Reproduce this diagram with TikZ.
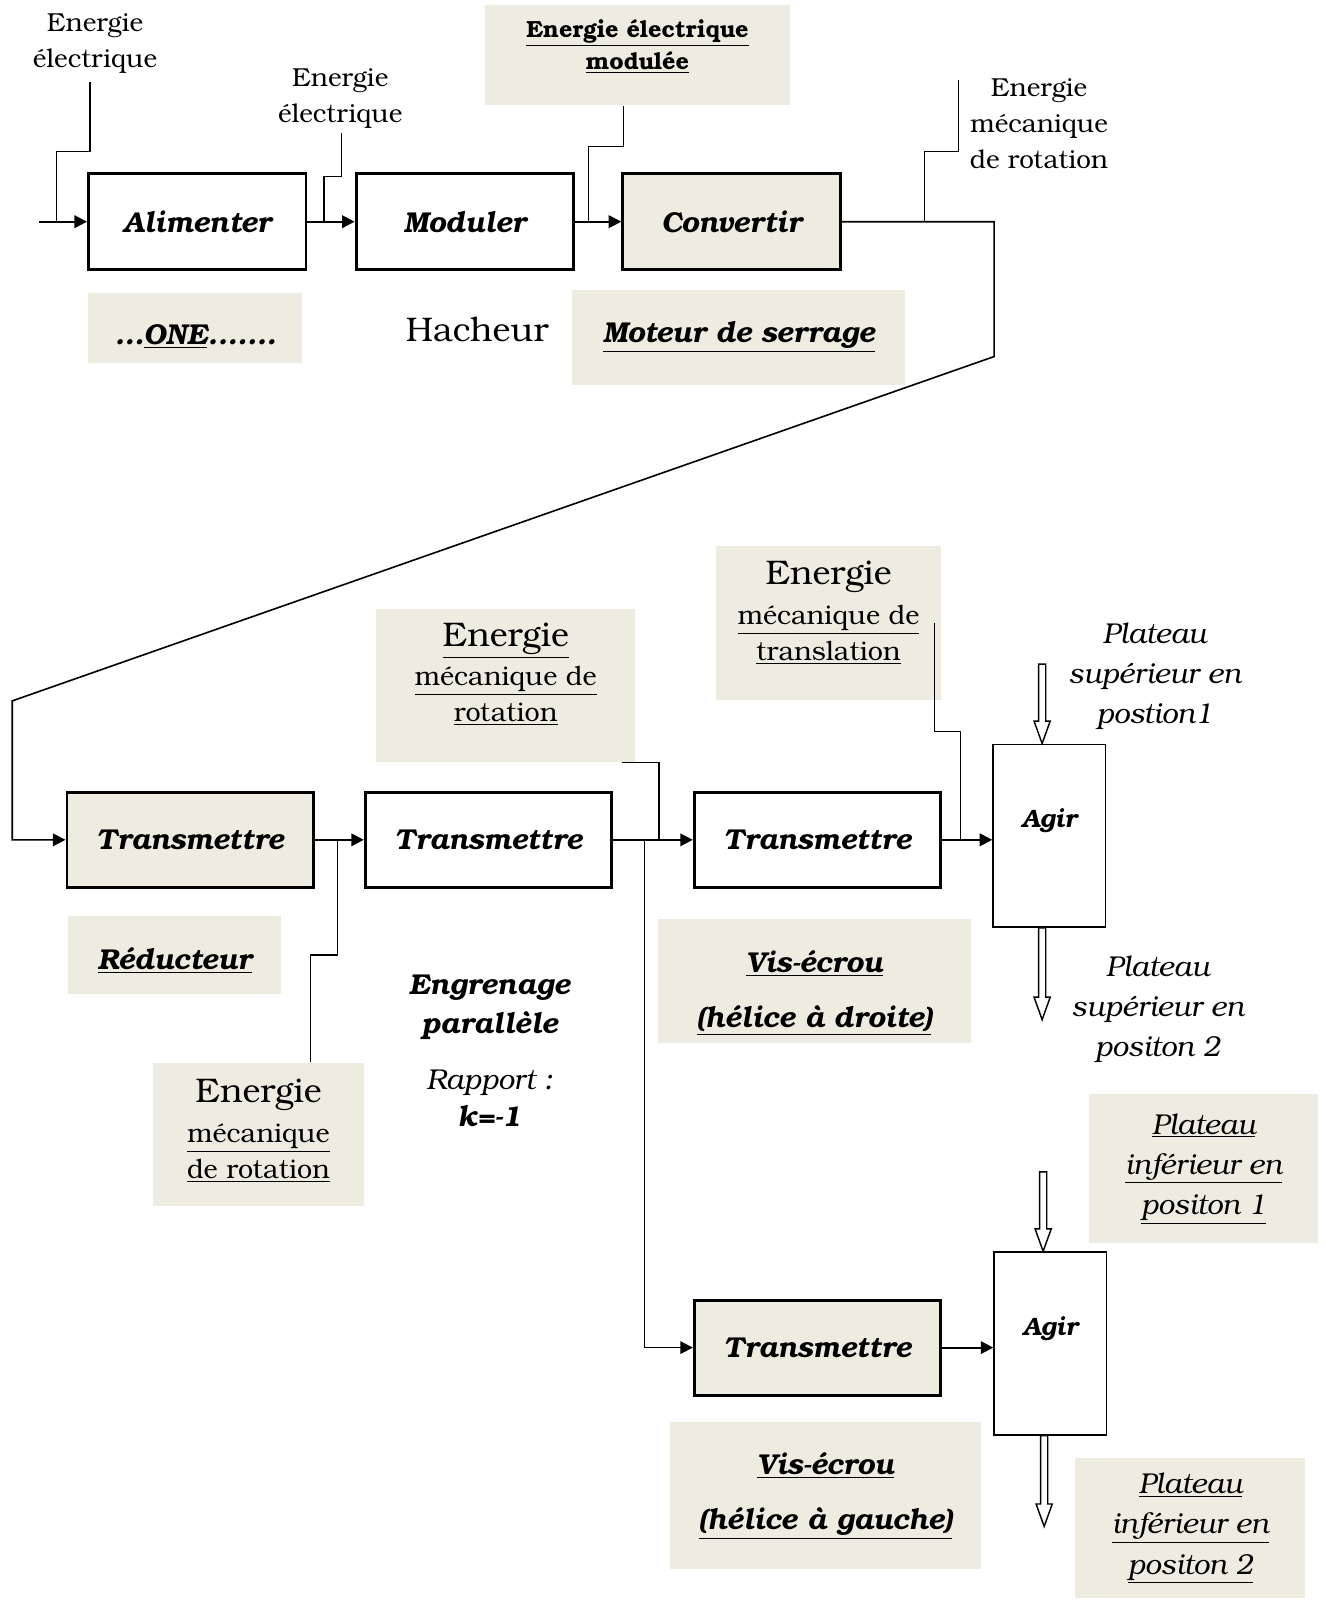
\documentclass[tikz,border=0pt]{standalone}
\usepackage{fontspec}
\setmainfont{texgyrebonum}[Extension=.otf, UprightFont=*-regular, BoldFont=*-bold,
  ItalicFont=*-italic, BoldItalicFont=*-bolditalic]
\usepackage{tikz}
\usetikzlibrary{arrows.meta,calc}
\definecolor{paper}{RGB}{238,236,225}
\newcommand{\hollowarrow}[2]{%
  \draw[line width=0.8pt, fill=white] let \p1=(#1), \p2=(#2) in
    (\x1-2pt,\y1) -- (\x1-2pt,\y2+12.5pt) -- (\x1-4.5pt,\y2+12.5pt) -- (\x1,\y2)
    -- (\x1+4.5pt,\y2+12.5pt) -- (\x1+2pt,\y2+12.5pt) -- (\x1+2pt,\y1) -- cycle;}

\begin{document}
\begin{tikzpicture}[x=0.02cm, y=-0.02cm,
  fbox/.style={
    draw, line width=1.6pt, minimum width=4.26cm, minimum height=1.88cm,
    inner sep=0pt, font=\fontsize{16}{19}\selectfont\bfseries\itshape
  },
  tbox/.style={fbox, minimum width=4.82cm, minimum height=1.86cm},
  agir/.style={
    draw, line width=0.9pt, minimum width=2.2cm, minimum height=3.58cm,
    text depth=20pt, font=\fontsize{14}{17}\selectfont\bfseries\itshape
  },
  note/.style={fill=paper, align=center, inner sep=0pt},
  lbl/.style={align=center, font=\fontsize{14.5}{20}\selectfont},
  boldlbl/.style={align=center, font=\fontsize{16}{19}\selectfont\bfseries\itshape},
  platlbl/.style={align=center, font=\fontsize{16}{22.4}\selectfont\itshape},
  mecalbl/.style={align=center, font=\fontsize{15}{20}\selectfont},
  arr/.style={-{Triangle[length=7pt, width=7pt]}, line width=1.1pt},
  wire/.style={line width=0.7pt}
]
\useasboundingbox (0,0) rectangle (1297,1568);

\node[fbox] (alim) at (193,217) {Alimenter};
\node[fbox] (modul) at (455,217) {Moduler};
\node[fbox, fill=paper] (conv) at (716,217) {Convertir};
\node[lbl] (e1) at (93,43) {Energie\\électrique};
\node[lbl] (e2) at (333,96) {Energie\\électrique};
\node[lbl] (e3) at (1017,121) {Energie\\mécanique\\de rotation};
\node[note, minimum width=5.96cm, minimum height=1.96cm, text depth=12pt,
  font=\fontsize{13}{17.6}\selectfont\bfseries] (emod) at (624,54)
  {\underline{Energie électrique}\\\underline{modulée}};
\node[note, boldlbl, minimum width=4.18cm, minimum height=1.38cm, text height=21pt] (one) at (191,321)
  {...\underline{ONE}.......};
\node[font=\fontsize{19}{22}\selectfont] (hach) at (467,322) {Hacheur};
\node[note, boldlbl, minimum width=6.52cm, minimum height=1.86cm] (mot) at (723,330)
  {\underline{Moteur de serrage}};

\coordinate (src) at (38,217);
\coordinate (e1f) at (88,80);
\coordinate (j1) at (55,217);
\coordinate (e2f) at (334,130);
\coordinate (j2) at (317,217);
\coordinate (j3) at (576,217);
\coordinate (e3f) at (938,78);
\coordinate (j4) at (905,217);

\draw[arr] (src) -- (alim);
\draw[arr] (alim) -- (modul);
\draw[arr] (modul) -- (conv);
\draw[wire] (e1f) -- ++(0,68) -| (j1);
\draw[wire] (e2f) -- ++(0,43) -| (j2);
\draw[wire] ([xshift=-0.28cm]emod.south) -- ++(0,40) -| (j3);
\draw[wire] (e3f) -- ++(0,70) -| (j4);

\node[tbox, fill=paper] (t1) at (186,822) {Transmettre};
\node[tbox] (t2) at (478,822) {Transmettre};
\node[tbox] (t3) at (800,822) {Transmettre};
\node[tbox, fill=paper] (t4) at (800,1319) {Transmettre};
\node[agir] (agir1) at (1027,818) {Agir};
\node[agir] (agir2) at (1028,1315) {Agir};

\draw[arr, line width=0.9pt] (conv.east) -- (973,217) -- (973,349) -- (12,686) |- (t1);

\node[note, boldlbl, minimum width=4.16cm, minimum height=1.52cm, text height=18pt] (red) at (171,935)
  {\underline{Réducteur}};
\node[boldlbl, font=\fontsize{16}{21.5}\selectfont\bfseries\itshape] (eng) at (479,986)
  {Engrenage\\parallèle};
\node[align=center, font=\fontsize{16}{21}\selectfont\itshape] (rap) at (479,1075)
  {Rapport :\\\textbf{k=-1}};
\node[note, mecalbl, minimum width=4.14cm, minimum height=2.8cm, text depth=6pt] (emr1) at (253,1110)
  {{\fontsize{19}{23}\selectfont Energie}\\[2pt]\underline{mécanique}\\\underline{de rotation}};
\node[note, mecalbl, minimum width=5.08cm, minimum height=3.0cm, text depth=15pt] (emr2) at (495,671)
  {{\fontsize{19}{23}\selectfont\underline{Energie}}\\[2pt]\underline{mécanique de}\\\underline{rotation}};
\node[note, mecalbl, minimum width=4.4cm, minimum height=3.02cm, text depth=14pt] (emt) at (811,610)
  {{\fontsize{19}{23}\selectfont Energie}\\[2pt]\underline{mécanique de}\\\underline{translation}};
\node[note, boldlbl, minimum width=6.12cm, minimum height=2.42cm, text height=56pt] (vis1) at (797,960)
  {\underline{Vis-écrou}\\[11.6pt]\underline{(hélice à droite)}};
\node[note, boldlbl, minimum width=6.1cm, minimum height=2.88cm] (vis2) at (808,1464)
  {\underline{Vis-écrou}\\[11.6pt]\underline{(hélice à gauche)}};
\node[platlbl] (ps1) at (1130,662) {Plateau\\supérieur en\\postion1};
\node[platlbl] (ps2) at (1133,988) {Plateau\\supérieur en\\positon 2};
\node[note, platlbl, minimum width=4.5cm, minimum height=2.92cm] (pi1) at (1178,1144)
  {\underline{Plateau}\\\underline{inférieur en}\\\underline{positon 1}};
\node[note, platlbl, minimum width=4.5cm, minimum height=2.74cm] (pi2) at (1165,1496)
  {\underline{Plateau}\\\underline{inférieur en}\\\underline{positon 2}};

\coordinate (j5) at (330,822);
\coordinate (j6) at (645,822);
\coordinate (j7) at (631,822);
\coordinate (j8) at (940,822);

\draw[arr] (t1) -- (t2);
\draw[arr] (t2) -- (t3);
\draw[arr] (t3) -- (t3 -| agir1.west);
\draw[arr] (t4) -- (t4 -| agir2.west);
\draw[arr, line width=0.9pt] (j7) |- (t4);
\draw[wire] ([xshift=1.02cm]emr1.north) -- ++(0,-105) -| (j5);
\draw[wire] ([xshift=-0.28cm]emr2.south east) -| (j6);
\draw[wire] ([xshift=-0.14cm]emt.east) -- ++(0,106) -| (j8);

\coordinate (h1) at (1020,650);
\coordinate (h2) at (1020,998);
\coordinate (h3) at (1021,1147);
\coordinate (h4) at (1022,1494);
\hollowarrow{h1}{agir1.north}
\hollowarrow{h2 |- agir1.south}{h2}
\hollowarrow{h3}{agir2.north}
\hollowarrow{h4 |- agir2.south}{h4}
\end{tikzpicture}
\end{document}
